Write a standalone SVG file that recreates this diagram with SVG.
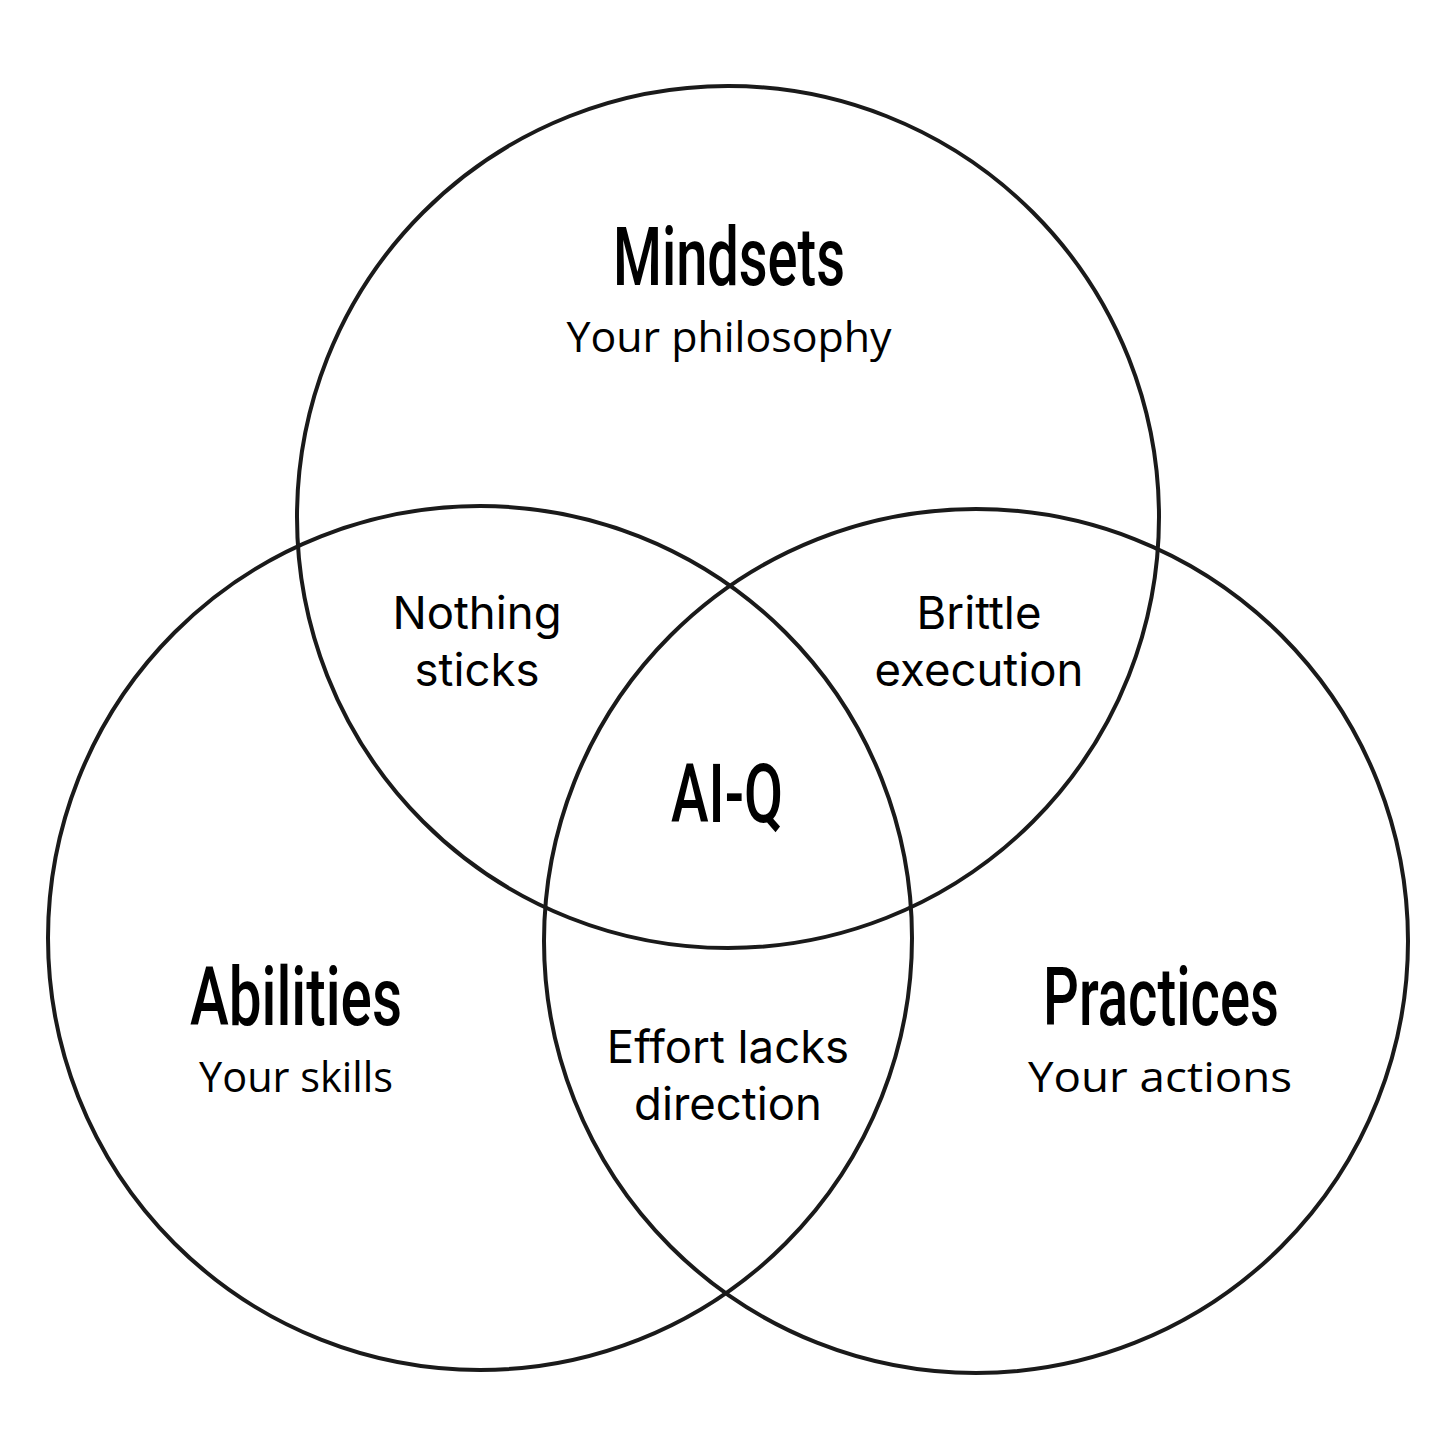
<svg xmlns="http://www.w3.org/2000/svg" width="1456" height="1456" viewBox="0 0 1456 1456">
<style>
.ring{fill:none;stroke:#1a1a1a;stroke-width:4}
.title{font-family:Roboto,"Liberation Sans",sans-serif;font-weight:500;font-size:82px;fill:#000;text-anchor:middle}
.sub{font-family:"Open Sans","Noto Sans",sans-serif;font-size:42px;fill:#000;text-anchor:middle}
.mid{font-family:Inter,"Liberation Sans",sans-serif;font-size:45.5px;fill:#000;text-anchor:middle}
</style>
<rect width="1456" height="1456" fill="#fff"/>
<g id="connectors"></g>
<g id="mindsets">
<circle class="ring" cx="728" cy="517" r="431"/>
<text class="title" x="729" y="285" textLength="232" lengthAdjust="spacingAndGlyphs">Mindsets</text>
<text class="sub" x="729" y="352" textLength="325" lengthAdjust="spacingAndGlyphs">Your philosophy</text>
</g>
<g id="abilities">
<circle class="ring" cx="480" cy="938" r="432"/>
<text class="title" x="296" y="1025" textLength="212" lengthAdjust="spacingAndGlyphs">Abilities</text>
<text class="sub" x="296" y="1092" textLength="194" lengthAdjust="spacingAndGlyphs">Your skills</text>
</g>
<g id="practices">
<circle class="ring" cx="976" cy="941" r="432"/>
<text class="title" x="1161" y="1025" textLength="236" lengthAdjust="spacingAndGlyphs">Practices</text>
<text class="sub" x="1160" y="1092" textLength="264" lengthAdjust="spacingAndGlyphs">Your actions</text>
</g>
<g id="nothing-sticks">
<text class="mid" x="477" y="629">Nothing</text>
<text class="mid" x="477" y="686">sticks</text>
</g>
<g id="brittle-execution">
<text class="mid" x="979" y="629">Brittle</text>
<text class="mid" x="979" y="686">execution</text>
</g>
<g id="aiq">
<text class="title" x="727" y="822" textLength="112" lengthAdjust="spacingAndGlyphs">AI-Q</text>
</g>
<g id="effort-lacks-direction">
<text class="mid" x="728" y="1063">Effort lacks</text>
<text class="mid" x="728" y="1120">direction</text>
</g>
</svg>
